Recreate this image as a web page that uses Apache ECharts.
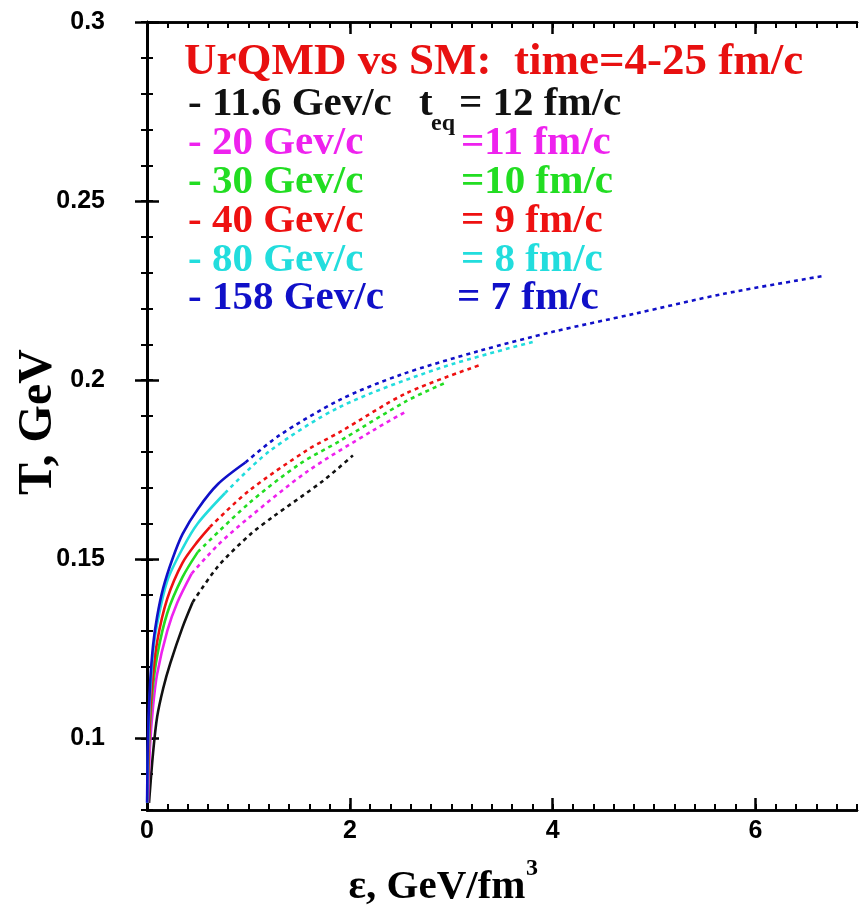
<!DOCTYPE html>
<html><head><meta charset="utf-8">
<script src="https://cdn.jsdelivr.net/npm/echarts@6/dist/echarts.min.js"></script>
<style>html,body{margin:0;padding:0;background:#fff}#c{width:859px;height:909px}</style>
</head><body><div id="c"></div>
<script>
// ---- data (epsilon GeV/fm^3, T GeV) ----
const e116Solid = [[0.02,0.082],[0.06,0.096],[0.10,0.106],[0.16,0.114],[0.23,0.121],[0.35,0.131],[0.45,0.138]];
const e116Dot   = [[0.45,0.138],[0.70,0.148],[1.02,0.157],[1.24,0.1618],[1.74,0.172],[2.03,0.179]];
const e20Solid  = [[0.01,0.082],[0.03,0.098],[0.06,0.109],[0.10,0.118],[0.20,0.130],[0.30,0.138],[0.44,0.146]];
const e20Dot    = [[0.44,0.146],[0.70,0.154],[1.00,0.1615],[1.58,0.1745],[2.23,0.1860],[2.57,0.1915]];
const e30Solid  = [[0.005,0.082],[0.02,0.098],[0.05,0.112],[0.10,0.123],[0.20,0.135],[0.35,0.145],[0.50,0.152]];
const e30Dot    = [[0.50,0.152],[1.00,0.1655],[1.50,0.1765],[1.90,0.1830],[2.56,0.1942],[2.96,0.1995]];
const e40Solid  = [[0.004,0.082],[0.02,0.100],[0.05,0.115],[0.10,0.127],[0.20,0.139],[0.35,0.149],[0.50,0.155],[0.62,0.159]];
const e40Dot    = [[0.62,0.159],[1.00,0.169],[1.58,0.1805],[1.90,0.1855],[2.56,0.1964],[3.28,0.2042]];
const e80Solid  = [[0.002,0.082],[0.01,0.097],[0.03,0.112],[0.06,0.124],[0.10,0.132],[0.20,0.144],[0.35,0.153],[0.50,0.160],[0.77,0.1685]];
const e80Dot    = [[0.77,0.1685],[1.20,0.180],[1.90,0.1925],[2.89,0.2034],[3.81,0.2107]];
const e158Solid = [[0.001,0.082],[0.01,0.101],[0.03,0.115],[0.06,0.126],[0.10,0.134],[0.16,0.142],[0.25,0.150],[0.35,0.157],[0.50,0.164],[0.70,0.171],[0.97,0.177]];
const e158Dot   = [[0.97,0.177],[1.30,0.1845],[1.90,0.1945],[2.50,0.2015],[3.28,0.2082],[4.00,0.2135],[4.80,0.2185],[5.70,0.2242],[6.65,0.2290]];

const energies = ['11.6', '20', '30', '40', '80', '158'];
const teqTexts = ['= 12 fm/c', '=11 fm/c', '=10 fm/c', '= 9 fm/c', '= 8 fm/c', '= 7 fm/c'];
const colors   = ['#111111', '#ee22ee', '#22dd22', '#ee1111', '#22dddd', '#1010c8'];
const solidSets = [e116Solid, e20Solid, e30Solid, e40Solid, e80Solid, e158Solid];
const dotSets   = [e116Dot, e20Dot, e30Dot, e40Dot, e80Dot, e158Dot];

const xMajor = [0, 2, 4, 6];
const yMajor = [0.1, 0.15, 0.2, 0.25, 0.3];
const titleText = 'UrQMD vs SM:  time=4-25 fm/c';

// ---- chart ----
const chart = echarts.init(document.getElementById('c'), null, {renderer: 'canvas'});
const grid = {left: 147, right: 2, top: 22, bottom: 99};
const lineAx = {show: true, lineStyle: {color: '#000', width: 2.5}};
const lblFont = {fontFamily: 'Liberation Sans', fontWeight: 'bold', fontSize: 25, color: '#000'};

function xAx(pos, major, labels) {
  return {
    type: 'value', min: 0, max: 7, interval: 0.2, position: pos,
    axisLine: lineAx,
    axisTick: major ? {show: true, inside: true, length: 12, lineStyle: {width: 2.5, color: '#000'}, customValues: xMajor}
                    : {show: true, inside: true, length: 6, lineStyle: {width: 2, color: '#000'}},
    axisLabel: labels ? Object.assign({show: true, margin: 9, customValues: xMajor, formatter: v => String(v)}, lblFont) : {show: false},
    splitLine: {show: false}
  };
}
function yAx(pos, major, labels) {
  return {
    type: 'value', min: 0.08, max: 0.3, interval: 0.01, position: pos,
    axisLine: lineAx,
    axisTick: major ? {show: true, inside: true, length: 12, lineStyle: {width: 2.5, color: '#000'}, customValues: yMajor}
                    : {show: true, inside: true, length: 6, lineStyle: {width: 2, color: '#000'}},
    axisLabel: labels ? Object.assign({show: true, margin: 42, customValues: yMajor,
                 formatter: v => String(Math.round(v * 100) / 100)}, lblFont) : {show: false},
    splitLine: {show: false}
  };
}

const series = [];
for (let i = 0; i < 6; i++) {
  series.push({type: 'line', data: solidSets[i], showSymbol: false, smooth: 0.3,
    lineStyle: {color: colors[i], width: 2.6}, z: 3});
  series.push({type: 'line', data: dotSets[i], showSymbol: false, smooth: 0.3,
    lineStyle: {color: colors[i], width: 2.6, type: [4, 4]}, z: 3});
}

const serif = 'Liberation Serif';
const graphics = [];
graphics.push({type: 'text', x: 184, y: 62, style: {text: titleText, fill: '#e81010',
  font: 'bold 45px "' + serif + '"', verticalAlign: 'middle'}});
const rowY = [104, 143, 182, 221, 260, 298];
for (let i = 0; i < 6; i++) {
  graphics.push({type: 'text', x: 188, y: rowY[i], style: {text: '- ' + energies[i] + ' Gev/c', fill: colors[i],
    font: 'bold 41px "' + serif + '"', verticalAlign: 'middle'}});
  graphics.push({type: 'text', x: i === 0 ? 459 : (i === 5 ? 457 : 461), y: rowY[i], style: {text: teqTexts[i], fill: colors[i],
    font: 'bold 41px "' + serif + '"', verticalAlign: 'middle'}});
}
graphics.push({type: 'text', x: 419, y: rowY[0], style: {text: 't', fill: '#111', font: 'bold 41px "' + serif + '"', verticalAlign: 'middle'}});
graphics.push({type: 'text', x: 431, y: 124, style: {text: 'eq', fill: '#111', font: 'bold 24px "' + serif + '"', verticalAlign: 'middle'}});
// axis titles
graphics.push({type: 'text', x: 39, y: 422, rotation: Math.PI / 2, style: {text: 'T, GeV', fill: '#000',
  font: 'bold 48px "' + serif + '"', align: 'center', verticalAlign: 'middle'}});
graphics.push({type: 'text', x: 437, y: 887, style: {text: 'ε, GeV/fm', fill: '#000',
  font: 'bold 41px "' + serif + '"', align: 'center', verticalAlign: 'middle'}});
graphics.push({type: 'text', x: 526, y: 869, style: {text: '3', fill: '#000',
  font: 'bold 24px "' + serif + '"', align: 'left', verticalAlign: 'middle'}});

chart.setOption({
  animation: false,
  backgroundColor: '#fff',
  grid: grid,
  xAxis: [xAx('bottom', false, true), xAx('bottom', true, false), xAx('top', false, false), xAx('top', true, false)],
  yAxis: [yAx('left', false, true), yAx('left', true, false), yAx('right', false, false), yAx('right', true, false)],
  series: series,
  graphic: graphics
});
</script></body></html>
